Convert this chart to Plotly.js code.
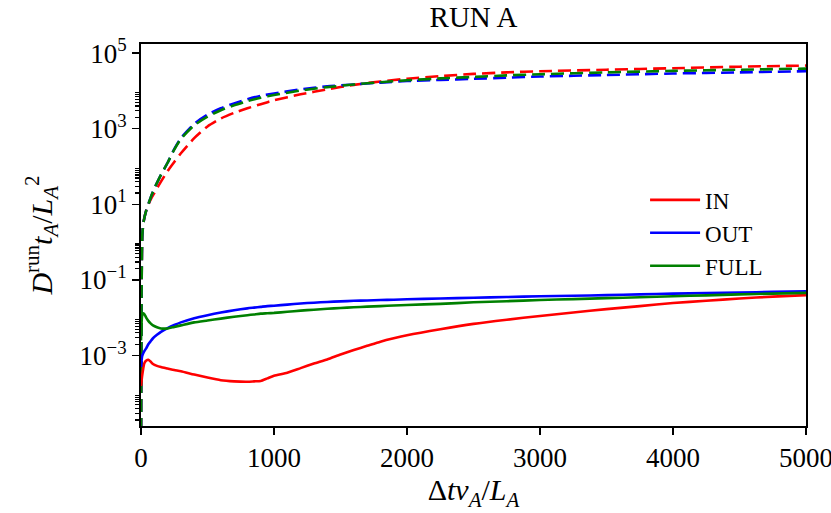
<!DOCTYPE html>
<html>
<head>
<meta charset="utf-8">
<script src="https://cdn.plot.ly/plotly-3.0.1.min.js"></script>
<style>
  html, body { margin: 0; padding: 0; background: #fff; }
  #chart { width: 831px; height: 513px; }
</style>
</head>
<body>
<div id="chart"></div>
<script>
/* ── RUN A: running diffusion coefficient, log y ── */

const SERIES = ['IN', 'OUT', 'FULL'];
const COLORS = { IN: '#ff0000', OUT: '#0000ff', FULL: '#008000' };

// dashed curves (upper set): x and log10 of value
const xDash = [0, 5, 10, 20, 40, 60, 80, 100, 150, 200, 250, 300, 400, 500, 600, 700, 800, 900, 1000,
    1200, 1400, 1600, 1800, 2000, 2250, 2500, 2750, 3000, 3500, 4000, 4500, 5000];
const inDashLog = [-6, -1, 0.2, 0.55, 0.85, 1.03, 1.18, 1.3, 1.6, 1.88, 2.12, 2.35, 2.75, 3.06, 3.27, 3.42, 3.54, 3.65, 3.75,
    3.91, 4.04, 4.16, 4.25, 4.32, 4.39, 4.45, 4.49, 4.52, 4.56, 4.60, 4.64, 4.67];
const outDashLog = [-6, -1, 0.2, 0.55, 0.85, 1.05, 1.25, 1.42, 1.78, 2.1, 2.46, 2.75, 3.13, 3.37, 3.54, 3.67, 3.78, 3.87, 3.93,
    4.04, 4.12, 4.17, 4.22, 4.26, 4.29, 4.32, 4.35, 4.38, 4.42, 4.46, 4.49, 4.52];
const fullDashLog = [-6, -1, 0.2, 0.55, 0.85, 1.05, 1.25, 1.42, 1.78, 2.1, 2.45, 2.73, 3.09, 3.32, 3.49, 3.62, 3.73, 3.82, 3.89,
    4.01, 4.10, 4.17, 4.23, 4.28, 4.33, 4.37, 4.41, 4.44, 4.49, 4.53, 4.56, 4.59];

// solid curves (lower set)
const xSolid = [0, 8, 15, 25, 40, 55, 70, 90, 120, 150, 200, 250, 300, 400, 500, 600, 700, 800, 850, 900, 950, 1000,
    1100, 1200, 1300, 1400, 1500, 1600, 1700, 1800, 1900, 2000, 2250, 2500, 2750, 3000, 3250, 3500, 3750,
    4000, 4250, 4500, 4750, 5000];
const inSolidLog = [-3.8, -3.55, -3.38, -3.2, -3.13, -3.11, -3.15, -3.22, -3.27, -3.3, -3.34, -3.38, -3.41, -3.5, -3.58, -3.65, -3.68, -3.69, -3.68, -3.67, -3.6, -3.53,
    -3.45, -3.33, -3.21, -3.1, -2.97, -2.85, -2.74, -2.63, -2.54, -2.46, -2.3, -2.16, -2.05, -1.95, -1.86, -1.77, -1.69,
    -1.61, -1.55, -1.49, -1.44, -1.40];
const outSolidLog = [-3.3, -3.02, -2.95, -2.88, -2.8, -2.7, -2.63, -2.54, -2.45, -2.37, -2.27, -2.19, -2.12, -2.01, -1.93, -1.86, -1.80, -1.75, -1.73, -1.71, -1.69, -1.68,
    -1.65, -1.62, -1.60, -1.58, -1.565, -1.55, -1.54, -1.53, -1.52, -1.51, -1.49, -1.47, -1.45, -1.43, -1.415, -1.40, -1.38,
    -1.36, -1.345, -1.33, -1.315, -1.30];
const fullSolidLog = [-2.6, -1.95, -1.88, -1.9, -2.0, -2.08, -2.14, -2.2, -2.25, -2.28, -2.28, -2.24, -2.2, -2.12, -2.07, -2.02, -1.97, -1.93, -1.91, -1.89, -1.88, -1.87,
    -1.84, -1.81, -1.785, -1.76, -1.74, -1.72, -1.705, -1.69, -1.675, -1.66, -1.63, -1.59, -1.56, -1.53, -1.505, -1.48, -1.455,
    -1.43, -1.405, -1.38, -1.36, -1.34];

const X_TICKS = [0, 1000, 2000, 3000, 4000, 5000];
const Y_TICK_EXP = [-3, -1, 1, 3, 5];
const MINOR_DECADES = [-5, -3, -1, 1, 3];
const MINOR_SUBS = [2, 3, 4, 5, 6, 7, 8, 9];

const dashLog = { IN: inDashLog, OUT: outDashLog, FULL: fullDashLog };
const solidLog = { IN: inSolidLog, OUT: outSolidLog, FULL: fullSolidLog };
const toVal = a => a.map(v => Math.pow(10, v));

const FONT = '"Liberation Serif", "Times New Roman", serif';

const traces = [];
for (const s of SERIES) {
    traces.push({
        x: xDash, y: toVal(dashLog[s]),
        mode: 'lines', line: { color: COLORS[s], width: 2.6, dash: '13px,6px', shape: 'spline', smoothing: 0.6 },
        showlegend: false, hoverinfo: 'skip',
    });
}
for (const s of SERIES) {
    traces.push({
        x: xSolid, y: toVal(solidLog[s]),
        mode: 'lines', line: { color: COLORS[s], width: 2.6, shape: 'spline', smoothing: 0.6 },
        name: s, legendgroup: s,
    });
}

const minorVals = [];
MINOR_DECADES.forEach(d => MINOR_SUBS.forEach(m => minorVals.push(m * Math.pow(10, d))));

const layout = {
    width: 831, height: 513,
    margin: { l: 141, r: 25, t: 44, b: 87 },
    paper_bgcolor: '#fff', plot_bgcolor: '#fff',
    font: { family: FONT, size: 27, color: '#000' },
    title: {
        text: 'RUN A', font: { family: FONT, size: 29, color: '#000' },
        xref: 'paper', x: 0.5, xanchor: 'center',
        yref: 'container', y: 0.968, yanchor: 'middle',
    },
    xaxis: {
        range: [0, 5000], tickvals: X_TICKS, ticktext: X_TICKS.map(String),
        showgrid: false, zeroline: false, automargin: false, ticklabeloverflow: 'allow',
        showline: true, linecolor: '#000', linewidth: 2, mirror: true,
        ticks: 'outside', ticklen: 7, tickwidth: 1.5, tickcolor: '#000',
        tickfont: { family: FONT, size: 27 },
        title: { text: 'Δ<i>tv</i><sub><i>A</i></sub>/<i>L</i><sub><i>A</i></sub>', font: { family: FONT, size: 30 }, standoff: 4 },
    },
    yaxis: {
        type: 'log', range: [-4.86, 5.24],
        tickvals: Y_TICK_EXP.map(e => Math.pow(10, e)),
        ticktext: Y_TICK_EXP.map(e => '10<sup>' + (e < 0 ? '−' + (-e) : e) + '</sup>'),
        showgrid: false, zeroline: false, automargin: false,
        showline: true, linecolor: '#000', linewidth: 2, mirror: true,
        ticks: 'outside', ticklen: 7, tickwidth: 1.5, tickcolor: '#000',
        tickfont: { family: FONT, size: 27 },
        minor: { tickmode: 'array', tickvals: minorVals, ticks: 'outside', ticklen: 4, tickwidth: 1.2, tickcolor: '#000', showgrid: false },
        title: { text: '<i>D</i><sup>run</sup><i>t</i><sub><i>A</i></sub>/<i>L</i><sub><i>A</i></sub><sup>2</sup>', font: { family: FONT, size: 30 }, standoff: 18 },
    },
    legend: {
        x: 0.758, xanchor: 'left', y: 0.648, yanchor: 'top',
        bgcolor: 'rgba(0,0,0,0)', borderwidth: 0,
        font: { family: FONT, size: 23 },
        traceorder: 'grouped', tracegroupgap: 0, itemwidth: 50,
    },
    showlegend: true,
};

Plotly.newPlot('chart', traces, layout, { staticPlot: true });
</script>
</body>
</html>
